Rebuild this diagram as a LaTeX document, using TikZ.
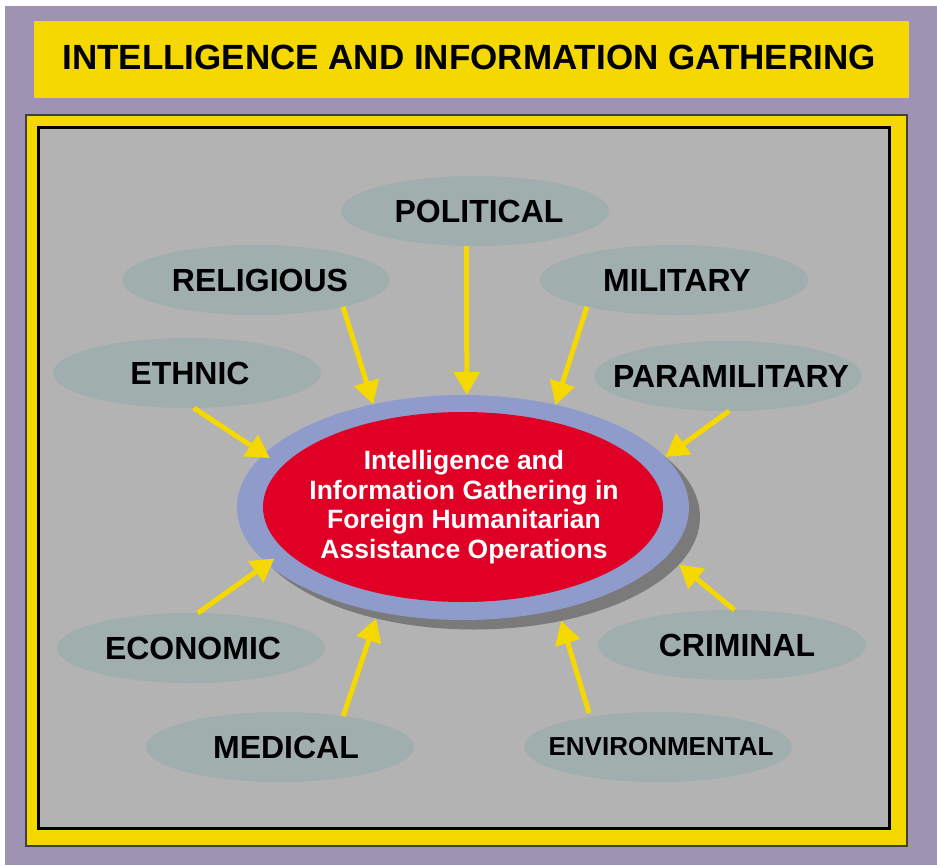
\documentclass[tikz,border=0pt]{standalone}
\usepackage{fontspec}
\setmainfont{Liberation Sans}
\usetikzlibrary{shapes.geometric,arrows.meta}
\definecolor{bgpurple}{HTML}{9F93B4}
\definecolor{fyellow}{HTML}{F5D800}
\definecolor{panelgray}{HTML}{B3B3B3}
\definecolor{satgray}{HTML}{A0AEAD}
\definecolor{ringblue}{HTML}{8F9CCB}
\definecolor{corered}{HTML}{E00025}
\definecolor{shadowgray}{HTML}{7A7A7A}
\tikzset{
  sat/.style={ellipse, fill=satgray, minimum width=268pt, minimum height=70pt, inner sep=0pt, outer sep=0pt,
    font=\fontsize{32}{38}\selectfont\bfseries, text=black},
  satsmall/.style={sat, font=\fontsize{26}{31}\selectfont\bfseries},
  arr/.style={draw=fyellow, line width=5pt, -{Triangle[length=23pt,width=25pt]}},
}
\newcommand{\zb}[2][4]{\makebox[0pt]{\hspace{#1pt}\hspace{#1pt}#2}}
\begin{document}
\begin{tikzpicture}[x=1pt,y=-1pt]
\useasboundingbox (0,0) rectangle (937,865);
% background
\fill[bgpurple] (5,6) rectangle (937,865);
% title
\node[fill=fyellow, minimum width=875pt, minimum height=77pt, inner sep=0pt, outer sep=0pt] (title) at (471.5,59.5) {};
\node[font=\fontsize{35}{42}\selectfont\bfseries, inner sep=0pt] (titletext) at (469,57) {INTELLIGENCE AND INFORMATION GATHERING};
% frames
\draw[fill=fyellow, draw=black!75, line width=1.3pt] (26,115) rectangle (907,846);
\draw[fill=panelgray, draw=black, line width=3pt] (38.5,127.5) rectangle (889.5,828.5);
% satellites
\node[sat] (pol) at (475,211) {\zb[4]{POLITICAL}};
\node[sat] (rel) at (256,280) {\zb[4]{RELIGIOUS}};
\node[sat] (mil) at (674,280) {\zb[3]{MILITARY}};
\node[sat] (eth) at (187,373) {\zb[3]{ETHNIC}};
\node[sat] (par) at (728,376) {\zb[3]{PARAMILITARY}};
\node[sat] (eco) at (191,648) {\zb[2]{ECONOMIC}};
\node[sat] (cri) at (732,645) {\zb[5]{CRIMINAL}};
\node[sat] (med) at (280,747) {\zb[6]{MEDICAL}};
\node[satsmall] (env) at (658,747) {\zb[3]{ENVIRONMENTAL}};
% core
\node[ellipse, fill=shadowgray, minimum width=452pt, minimum height=225pt, inner sep=0pt, outer sep=0pt] (shadow) at (474,517) {};
\node[ellipse, fill=ringblue, minimum width=452pt, minimum height=225pt, inner sep=0pt, outer sep=0pt] (ring) at (463,507.5) {};
\node[ellipse, fill=corered, minimum width=400pt, minimum height=190pt, inner sep=0pt, outer sep=0pt] (core) at (463,507) {};
\node[align=center, text=white, font=\fontsize{26.5}{29.7}\selectfont\bfseries, inner sep=0pt] (coretext) at (464,507)
  {Intelligence and\\Information Gathering in\\Foreign Humanitarian\\Assistance Operations};
% arrows
\draw[arr] (pol.-104) -- (ring.88.5);
\draw[arr] (rel.-17.4) -- (ring.131.6);
\draw[arr, shorten >=-7pt] (eth.-79) -- (ring.165.4);
\draw[arr] (mil.197.9) -- (ring.48.8);
\draw[arr] (par.-88.4) -- (ring.14.3);
\draw[arr, shorten >=-9pt] (eco.79) -- (ring.196.8);
\draw[arr] (med.26.9) -- (shadow.-134.4);
\draw[arr] (cri.86.7) -- (shadow.-13.6);
\draw[arr, shorten <=4pt] (env.156) -- (shadow.-50.3);
\end{tikzpicture}
\end{document}
